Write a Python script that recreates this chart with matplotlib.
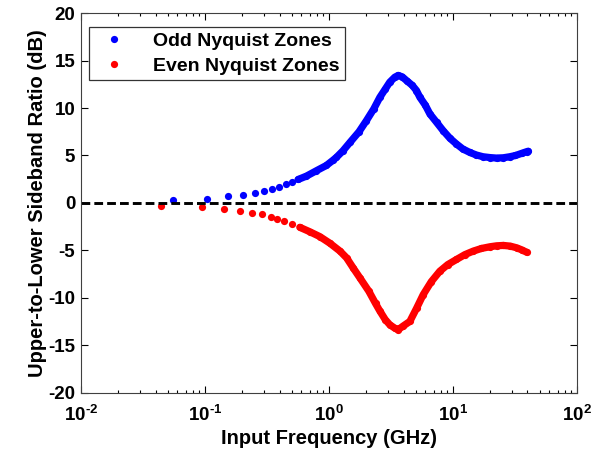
import numpy as np
import matplotlib.pyplot as plt
from matplotlib.ticker import FuncFormatter

plt.rcParams['font.family'] = ['Liberation Sans', 'DejaVu Sans']
plt.rcParams['font.weight'] = 'bold'
plt.rcParams['axes.unicode_minus'] = False
plt.rcParams['mathtext.fontset'] = 'custom'
plt.rcParams['mathtext.rm'] = 'Liberation Sans:bold'
plt.rcParams['mathtext.bf'] = 'Liberation Sans:bold'

# odd Nyquist zones (blue)
odd_freq = [0.055, 0.105, 0.154, 0.204, 0.253, 0.301, 0.349, 0.395, 0.448,
            0.50, 0.565, 0.66, 0.795, 0.955, 1.08, 1.15, 1.30, 1.48, 1.75,
            2.01, 2.30, 2.58, 2.85, 3.10, 3.40, 3.62, 3.90, 4.23, 4.70, 5.09,
            5.42, 6.0, 6.53, 7.39, 8.35, 9.5, 10.7, 12.0, 13.7, 15.5, 17.5,
            20.0, 22.5, 25.5, 28.8, 32.0, 35.8, 39.3, 40.5]
odd_db = [0.29, 0.46, 0.71, 0.88, 1.06, 1.27, 1.48, 1.69, 1.98,
          2.19, 2.47, 2.83, 3.40, 3.95, 4.50, 4.80, 5.50, 6.38, 7.5,
          8.68, 9.9, 11.14, 12.0, 12.73, 13.25, 13.44, 13.3, 12.9, 12.4, 11.85,
          11.14, 10.3, 9.38, 8.5, 7.62, 6.8, 6.21, 5.7, 5.32, 5.05, 4.87,
          4.78, 4.73, 4.76, 4.87, 5.0, 5.22, 5.4, 5.45]

# even Nyquist zones (red)
even_freq = [0.044, 0.094, 0.144, 0.191, 0.240, 0.290, 0.339, 0.385, 0.436,
             0.50, 0.583, 0.70, 0.846, 1.02, 1.23, 1.39, 1.58, 1.78, 2.10,
             2.38, 2.58, 2.85, 3.10, 3.40, 3.62, 3.95, 4.50, 5.10, 5.77, 6.7,
             7.85, 9.1, 10.7, 12.5, 14.6, 17.0, 19.9, 22.5, 25.5, 29.0, 32.7,
             36.0, 39.3]
even_db = [-0.32, -0.42, -0.67, -0.85, -1.06, -1.2, -1.48, -1.66, -1.94,
           -2.19, -2.57, -3.03, -3.55, -4.25, -5.08, -5.79, -6.9, -7.9, -9.3,
           -10.6, -11.4, -12.3, -12.84, -13.2, -13.37, -13.0, -12.49, -11.1, -9.66, -8.3,
           -7.2, -6.5, -5.96, -5.45, -5.08, -4.8, -4.62, -4.52, -4.48, -4.55, -4.73,
           -4.95, -5.19]


def exp_label(v, pos):
    e = int(round(np.log10(v)))
    if e < 0:
        return r'$\mathbf{10^{\text{-}%d}}$' % (-e)
    return r'$\mathbf{10^{%d}}$' % e


fig = plt.figure(figsize=(5.99, 4.55), dpi=100)
ax = fig.add_axes([0.135, 0.137, 0.828, 0.834])

ms = 5.2
for f, d, c, lab in [(odd_freq, odd_db, 'blue', 'Odd Nyquist Zones'),
                     (even_freq, even_db, 'red', 'Even Nyquist Zones')]:
    f = np.array(f)
    d = np.array(d)
    ax.plot(f, d, 'o', color=c, ms=ms, mec='none', label=lab)
    dense = f > 0.5
    ax.plot(f[dense], d[dense], '-', color=c, lw=ms, solid_capstyle='round',
            solid_joinstyle='round')

ax.axhline(0, color='k', lw=2.1, dashes=(3, 1.4))

ax.set_xscale('log')
ax.set_xlim(1e-2, 1e2)
ax.set_ylim(-20, 20)
ax.set_yticks(np.arange(-20, 21, 5))
ax.xaxis.set_major_formatter(FuncFormatter(exp_label))
ax.tick_params(which='both', direction='in', top=True, right=True,
               labelsize=13.5)
ax.tick_params(axis='x', pad=9)
ax.tick_params(axis='y', pad=4)
ax.tick_params(which='major', length=5, width=0.8)
ax.tick_params(which='minor', length=2.5, width=0.8)
for lbl in ax.get_xticklabels() + ax.get_yticklabels():
    lbl.set_fontweight('bold')
for s in ax.spines.values():
    s.set_color('#404040')

ax.set_xlabel('Input Frequency (GHz)', fontsize=14.5, fontweight='bold', labelpad=3)
ax.set_ylabel('Upper-to-Lower Sideband Ratio (dB)', fontsize=14.5,
              fontweight='bold', labelpad=1)

leg = ax.legend(loc='upper left', bbox_to_anchor=(0.0, 0.985), fontsize=14,
                frameon=True, fancybox=False, edgecolor='k', borderpad=0.3,
                handletextpad=1.0, labelspacing=0.35, markerscale=1.0,
                borderaxespad=0.4)
leg.get_frame().set_linewidth(0.9)
for t in leg.get_texts():
    t.set_fontweight('bold')

fig.savefig('out.png', dpi=100)
